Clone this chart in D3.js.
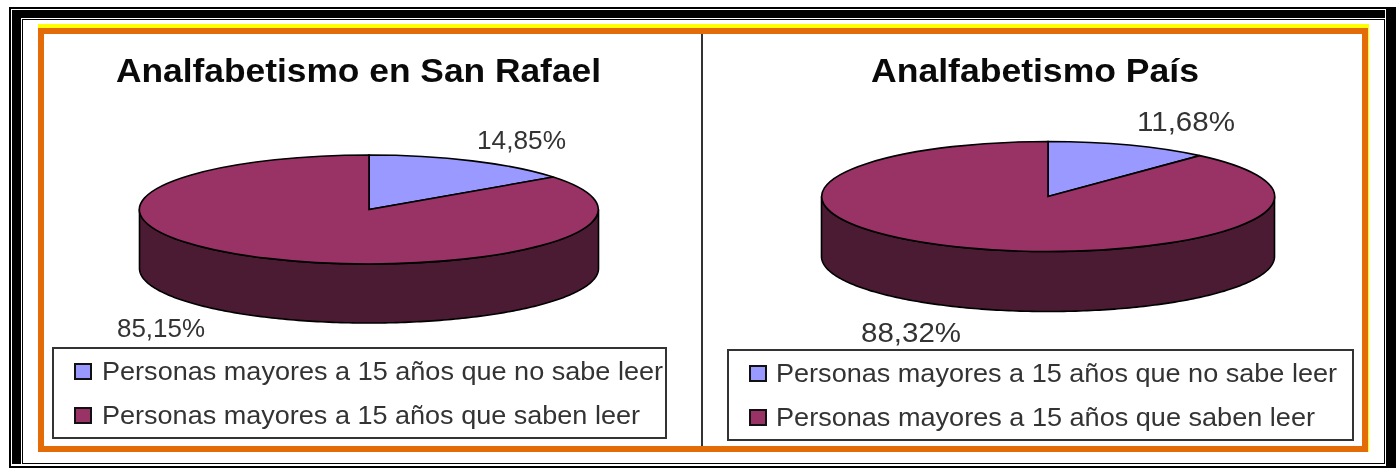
<!DOCTYPE html>
<html><head><meta charset="utf-8">
<script src="https://cdn.jsdelivr.net/npm/d3@7"></script>
<style>html,body{margin:0;padding:0;background:#fff}svg{display:block}text{filter:blur(0.3px)}</style></head>
<body><svg id="c" width="1396" height="468"></svg>
<script>
const titles = ["Analfabetismo en San Rafael", "Analfabetismo País"];
const categories = ["Personas mayores a 15 años que no sabe leer", "Personas mayores a 15 años que saben leer"];
const sanRafaelValues = [14.85, 85.15];
const paisValues = [11.68, 88.32];
const sanRafaelLabels = ["14,85%", "85,15%"];
const paisLabels = ["11,68%", "88,32%"];
const colors = ["#9999ff", "#993366"];
const wallColor = "#4b1a33";

const panels = [
  {title:titles[0], values:sanRafaelValues, labels:sanRafaelLabels, tx:116, tw:485, ty:82, cx:369, cy:209.5, rx:229.5, ry:54.5, depth:59,
   lp:[[477,149,89],[117,337,88]], lf:26, box:[53,348,613,90], swx:75, swy:[364,408], tX:102, tY:[380,424], tw2:[561,538]},
  {title:titles[1], values:paisValues, labels:paisLabels, tx:871, tw:328, ty:82, cx:1048, cy:196.5, rx:226.5, ry:55, depth:60,
   lp:[[1137,131,98],[861,342,100]], lf:28, box:[728,350,625,90], swx:750, swy:[366,410], tX:776, tY:[382,426], tw2:[561,539]}
];

const svg = d3.select("#c");
const FONT = "'Liberation Sans', Arial, sans-serif";

function rect(g,x0,y0,x1,y1,fill){return g.append("rect").attr("x",x0).attr("y",y0).attr("width",x1-x0).attr("height",y1-y0).attr("fill",fill).attr("shape-rendering","crispEdges");}
const frame = svg.append("g");
rect(frame,9,7,1396,468,"#000");
rect(frame,11,9,1386,466,"#fff");
rect(frame,12,10,1385,464,"#000");
rect(frame,21,18,1385,464,"#fff");
rect(frame,22,19,1385,464,"#000");
rect(frame,23,20,1384,463,"#fff");
rect(frame,38,24,1369,452,"#ffff00");
rect(frame,38,28,1368,452,"#e36c09");
rect(frame,44,34,1362,446,"#fff");
frame.append("line").attr("x1",702).attr("x2",702).attr("y1",34).attr("y2",446).attr("stroke","#333").attr("stroke-width",2).attr("shape-rendering","crispEdges");

const TAU = 2*Math.PI;
function fit(sel,w){return sel.attr("textLength",w).attr("lengthAdjust","spacingAndGlyphs");}
panels.forEach(p=>{
  const g = svg.append("g");
  fit(g.append("text").text(p.title).attr("x",p.tx).attr("y",p.ty)
    .attr("font-family",FONT).attr("font-weight","bold").attr("font-size",33.5).attr("fill","#0a0a0a"),p.tw);
  const arcs = d3.pie().sort(null).value(d=>d)(p.values);
  const px = d3.scaleLinear().domain([-1,1]).range([p.cx-p.rx,p.cx+p.rx]);
  const py = d3.scaleLinear().domain([-1,1]).range([p.cy-p.ry,p.cy+p.ry]);
  const angs = d3.range(TAU/4, 3*TAU/4+0.001, TAU/360);
  const wall = d3.area().x(a=>px(Math.sin(a))).y0(a=>py(-Math.cos(a))).y1(a=>py(-Math.cos(a))+p.depth);
  g.append("path").attr("d",wall(angs)).attr("fill",wallColor).attr("stroke","#000").attr("stroke-width",1.6);
  const arc = d3.arc().innerRadius(0).outerRadius(1);
  const top = g.append("g").attr("transform",`translate(${p.cx},${p.cy}) scale(${p.rx},${p.ry})`);
  top.selectAll("path").data(arcs).join("path").attr("d",arc).attr("fill",(d,i)=>colors[i])
    .attr("stroke","#000").attr("stroke-width",1.6).attr("vector-effect","non-scaling-stroke");
  p.labels.forEach((t,i)=>fit(g.append("text").text(t).attr("x",p.lp[i][0]).attr("y",p.lp[i][1])
    .attr("font-family",FONT).attr("font-size",p.lf).attr("fill","#333"),p.lp[i][2]));
  const b=p.box;
  g.append("rect").attr("x",b[0]).attr("y",b[1]).attr("width",b[2]).attr("height",b[3]).attr("fill","#fff").attr("stroke","#333").attr("stroke-width",2);
  categories.forEach((c,i)=>{
    g.append("rect").attr("x",p.swx).attr("y",p.swy[i]).attr("width",16).attr("height",15).attr("fill",colors[i]).attr("stroke","#111").attr("stroke-width",2);
    fit(g.append("text").text(c).attr("x",p.tX).attr("y",p.tY[i]).attr("font-family",FONT).attr("font-size",25).attr("fill","#333"),p.tw2[i]);
  });
});
</script></body></html>
